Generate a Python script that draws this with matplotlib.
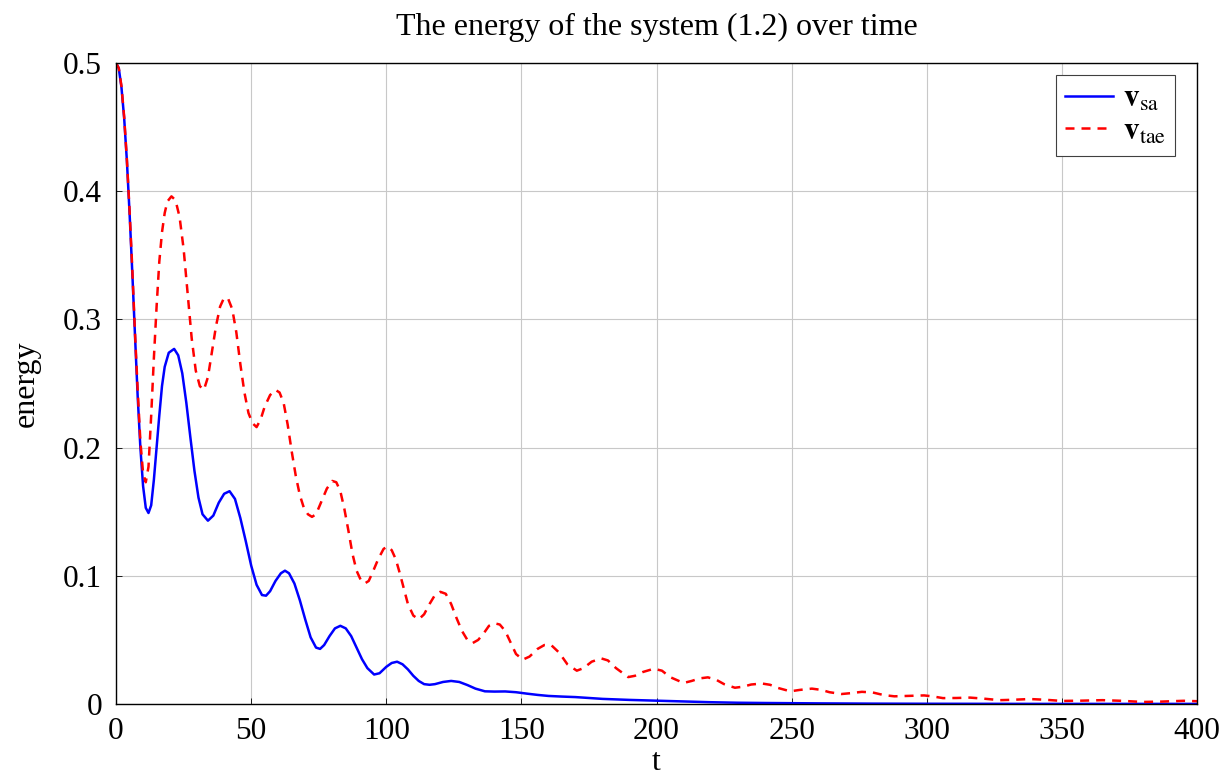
import matplotlib
matplotlib.use('Agg')
import matplotlib.pyplot as plt

# energy of v_sa
t_sa = [0, 1, 2, 3, 4, 5, 6, 7, 8, 9, 10, 11, 12, 13, 14, 15, 16, 17, 18, 19.5,
        21.5, 23, 24.5, 26, 27.5, 29, 30.5, 32, 34, 36, 38, 40, 42, 44, 46, 48,
        50, 52, 54, 55.5, 57, 59, 61, 62.5, 64, 66, 68, 70, 72, 74, 75.5, 77, 79,
        81, 83, 85, 87, 89, 91, 93, 95.5, 97.5, 100, 102, 104, 106, 108, 110,
        112, 114, 116, 118, 121, 124, 127, 130, 133, 136.5, 140, 144, 148, 152,
        156, 160, 165, 170, 175, 180, 190, 200, 210, 220, 230, 240, 260, 280,
        300, 340, 400]
e_sa = [0.5, 0.496, 0.481, 0.457, 0.424, 0.383, 0.337, 0.288, 0.24, 0.2, 0.17,
        0.153, 0.149, 0.155, 0.175, 0.2, 0.225, 0.248, 0.263, 0.274, 0.277,
        0.272, 0.258, 0.235, 0.208, 0.182, 0.161, 0.148, 0.143, 0.147, 0.157,
        0.164, 0.166, 0.16, 0.145, 0.127, 0.108, 0.093, 0.085, 0.0845, 0.088,
        0.096, 0.102, 0.104, 0.102, 0.094, 0.081, 0.066, 0.052, 0.044, 0.043,
        0.046, 0.053, 0.059, 0.061, 0.059, 0.053, 0.044, 0.035, 0.028, 0.023,
        0.024, 0.029, 0.032, 0.033, 0.031, 0.027, 0.022, 0.018, 0.0155, 0.015,
        0.0155, 0.0172, 0.018, 0.0172, 0.0148, 0.012, 0.0099, 0.0097, 0.0098,
        0.0092, 0.0081, 0.0071, 0.0063, 0.0058, 0.0054, 0.0047, 0.004, 0.0032,
        0.0026, 0.002, 0.0014, 0.001, 0.0008, 0.0005, 0.0003, 0.0002, 0.0001,
        0.0001]

# energy of v_tae
t_tae = [0, 1, 2, 3, 4, 5, 6, 7, 8, 9, 10, 11, 12, 13, 14, 15, 16, 17, 18, 19,
         20.5, 22, 23.5, 25, 26.5, 28, 29.5, 31, 32.5, 34, 35.5, 37, 38.5, 40,
         41.5, 43, 44.5, 46, 47.5, 49, 50.5, 52, 53.5, 55, 57, 59, 60.5, 62,
         63.5, 65, 66.5, 68, 69.5, 71, 72.5, 74, 76, 78, 80, 81.5, 83, 84.5, 86,
         87.5, 89, 90.5, 92, 93.5, 95, 97, 99, 100.5, 102, 103.5, 105, 106.5,
         108, 110, 112, 114, 116, 118, 120, 122, 124, 126, 128, 130, 132, 134,
         136, 138, 140, 142, 144, 146, 148, 150.5, 153, 156, 158.5, 161, 164,
         167, 170.5, 173, 176, 179.5, 182, 185, 189.5, 192, 195, 199, 202, 205,
         210, 213, 216, 219, 222, 225, 229, 232, 235, 239, 242, 245, 249.5, 253,
         257.5, 261, 264, 268.5, 272, 276, 280, 284, 288, 293, 299, 302, 306,
         311, 316, 321, 327, 332, 338, 344, 350, 357, 365, 372, 380, 387, 395,
         400]
e_tae = [0.5, 0.496, 0.482, 0.458, 0.425, 0.385, 0.34, 0.29, 0.245, 0.205, 0.18,
         0.173, 0.185, 0.225, 0.27, 0.31, 0.345, 0.368, 0.383, 0.392, 0.396,
         0.393, 0.38, 0.355, 0.32, 0.285, 0.26, 0.248, 0.245, 0.255, 0.275,
         0.295, 0.31, 0.317, 0.316, 0.308, 0.29, 0.265, 0.243, 0.227, 0.219,
         0.216, 0.222, 0.232, 0.241, 0.245, 0.243, 0.235, 0.218, 0.197, 0.178,
         0.163, 0.153, 0.148, 0.146, 0.148, 0.158, 0.168, 0.174, 0.173, 0.166,
         0.152, 0.135, 0.117, 0.104, 0.097, 0.094, 0.096, 0.103, 0.113, 0.121,
         0.123, 0.12, 0.113, 0.102, 0.09, 0.078, 0.069, 0.066, 0.07, 0.078,
         0.085, 0.0875, 0.086, 0.078, 0.067, 0.057, 0.05, 0.0476, 0.05, 0.055,
         0.061, 0.063, 0.062, 0.057, 0.048, 0.039, 0.0346, 0.037, 0.043, 0.046,
         0.046, 0.04, 0.031, 0.026, 0.028, 0.033, 0.0356, 0.034, 0.028, 0.021,
         0.022, 0.025, 0.0275, 0.026, 0.021, 0.0164, 0.018, 0.02, 0.0208, 0.019,
         0.0155, 0.0127, 0.0135, 0.0152, 0.016, 0.015, 0.0125, 0.0099, 0.011,
         0.012, 0.011, 0.0092, 0.0078, 0.0085, 0.0095, 0.009, 0.007, 0.006,
         0.0063, 0.0067, 0.006, 0.0046, 0.0047, 0.005, 0.0042, 0.003, 0.0033,
         0.0039, 0.0033, 0.0024, 0.0026, 0.003, 0.0025, 0.0016, 0.0019, 0.0025,
         0.0022]

x_ticks = [0, 50, 100, 150, 200, 250, 300, 350, 400]
y_ticks = [0, 0.1, 0.2, 0.3, 0.4, 0.5]
y_tick_labels = ['0', '0.1', '0.2', '0.3', '0.4', '0.5']

plt.rcParams['font.family'] = ['Liberation Serif', 'DejaVu Serif']
plt.rcParams['mathtext.fontset'] = 'stix'

fig = plt.figure(figsize=(12.32, 7.78), dpi=100)
ax = fig.add_axes([0.0942, 0.0951, 0.8774, 0.8239])

ax.plot(t_sa, e_sa, color='#0000ff', lw=1.8, label=r'$\mathbf{v}_{\mathrm{sa}}$')
ax.plot(t_tae, e_tae, color='#ff0000', lw=1.8, ls=(0, (3.6, 2.8)),
        label=r'$\mathbf{v}_{\mathrm{tae}}$')

ax.set_xlim(0, 400)
ax.set_ylim(0, 0.5)
ax.set_xticks(x_ticks)
ax.set_yticks(y_ticks)
ax.set_yticklabels(y_tick_labels)
ax.tick_params(axis='both', direction='in', labelsize=22.5, length=4, width=0.6)
ax.tick_params(axis='x', pad=9)
ax.tick_params(axis='y', pad=10)
ax.grid(True, color='#c8c8c8', lw=0.8)
ax.set_axisbelow(True)
for s in ax.spines.values():
    s.set_linewidth(1.0)

ax.set_title('The energy of the system (1.2) over time', fontsize=23, pad=20)
ax.set_xlabel('t', fontsize=23, labelpad=2)
ax.set_ylabel('energy', fontsize=23, labelpad=16)

leg = ax.legend(loc='upper right', bbox_to_anchor=(0.98, 0.981),
                fontsize=22.5, fancybox=False, framealpha=1,
                edgecolor='#404040', borderaxespad=0, handlelength=1.55,
                handletextpad=0.3, borderpad=0.3, labelspacing=0.12)
leg.get_frame().set_linewidth(0.8)

fig.savefig('out.png', dpi=100)
